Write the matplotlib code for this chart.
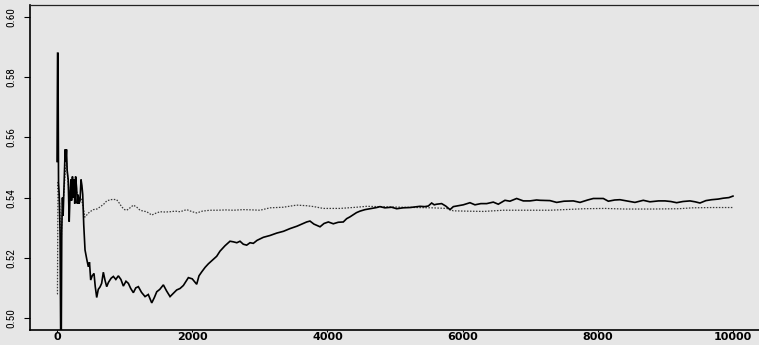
import matplotlib
matplotlib.use("Agg")
import matplotlib.pyplot as plt
from matplotlib import font_manager

# ---- data ----
solid_x = [0, 8, 14, 22, 32, 45, 55, 62, 70, 80, 90, 100, 110, 120, 130, 140, 150, 165, 180, 192,
           205, 215, 228, 240, 252, 262, 275, 290, 300, 312, 325, 340, 355, 368, 380, 395, 414, 440,
           463, 480, 498, 520, 547, 565, 587, 610, 636, 660, 685, 710, 735, 760, 800, 833, 870, 907,
           945, 981, 1020, 1055, 1090, 1129, 1165, 1203, 1250, 1302, 1350, 1401, 1440, 1475, 1520,
           1573, 1620, 1672, 1720, 1770, 1820, 1869, 1943, 2000, 2066, 2100, 2140, 2190, 2239, 2313,
           2362, 2411, 2485, 2559, 2608, 2660, 2707, 2756, 2806, 2855, 2904, 2960, 3052, 3150, 3250,
           3350, 3447, 3550, 3693, 3742, 3800, 3891, 3950, 4014, 4087, 4160, 4235, 4285, 4334, 4383,
           4430, 4482, 4556, 4650, 4729, 4778, 4850, 4950, 5025, 5120, 5222, 5300, 5370, 5440, 5493,
           5542, 5580, 5616, 5690, 5750, 5814, 5863, 5940, 6010, 6109, 6183, 6270, 6356, 6454, 6528,
           6627, 6700, 6800, 6898, 6997, 7095, 7145, 7293, 7392, 7500, 7638, 7737, 7850, 7934, 8082,
           8156, 8250, 8328, 8450, 8550, 8673, 8772, 8900, 8994, 9080, 9167, 9260, 9364, 9440, 9512,
           9600, 9685, 9780, 9857, 9940, 10000]
solid_y = [0.552, 0.588, 0.588, 0.545, 0.541, 0.528, 0.490, 0.490, 0.529, 0.540, 0.534, 0.541, 0.549,
           0.556, 0.552, 0.556, 0.549, 0.546, 0.532, 0.541, 0.546, 0.539, 0.547, 0.540, 0.546, 0.538,
           0.547, 0.543, 0.538, 0.541, 0.538, 0.539, 0.546, 0.544, 0.541, 0.531, 0.5226, 0.5195,
           0.5170, 0.5185, 0.5126, 0.5140, 0.5148, 0.5105, 0.5068, 0.5095, 0.5103, 0.5115, 0.5152,
           0.5125, 0.5104, 0.5118, 0.5132, 0.5138, 0.5128, 0.5140, 0.5128, 0.5106, 0.5122, 0.5115,
           0.5098, 0.5084, 0.5100, 0.5104, 0.5085, 0.5071, 0.5078, 0.5050, 0.5068, 0.5087, 0.5095,
           0.5110, 0.5090, 0.5071, 0.5082, 0.5093, 0.5098, 0.5108, 0.5134, 0.5130, 0.5112, 0.5140,
           0.5153, 0.5168, 0.5180, 0.5195, 0.5205, 0.5222, 0.5240, 0.5255, 0.5253, 0.5250, 0.5255,
           0.5245, 0.5242, 0.5250, 0.5248, 0.5258, 0.5268, 0.5274, 0.5282, 0.5288, 0.5297, 0.5305,
           0.5319, 0.5322, 0.5312, 0.5303, 0.5314, 0.5319, 0.5313, 0.5318, 0.5319, 0.5330, 0.5336,
           0.5343, 0.5350, 0.5355, 0.5360, 0.5364, 0.5367, 0.5370, 0.5366, 0.5368, 0.5363, 0.5366,
           0.5367, 0.5369, 0.5371, 0.5370, 0.5372, 0.5382, 0.5376, 0.5378, 0.5380, 0.5372, 0.5360,
           0.5370, 0.5373, 0.5376, 0.5383, 0.5376, 0.5380, 0.5380, 0.5385, 0.5378, 0.5391, 0.5388,
           0.5397, 0.5389, 0.5389, 0.5392, 0.5391, 0.5390, 0.5384, 0.5388, 0.5389, 0.5384, 0.5392,
           0.5397, 0.5397, 0.5388, 0.5392, 0.5393, 0.5388, 0.5384, 0.5391, 0.5386, 0.5389, 0.5389,
           0.5387, 0.5383, 0.5387, 0.5389, 0.5386, 0.5382, 0.5390, 0.5393, 0.5395, 0.5398, 0.5400,
           0.5405]

dotted_x = [0, 6, 14, 25, 40, 55, 65, 80, 100, 120, 140, 160, 180, 200, 230, 260, 290, 320, 360,
            390, 410, 439, 480, 537, 590, 636, 690, 735, 790, 833, 882, 920, 957, 1000, 1031, 1080,
            1129, 1180, 1228, 1280, 1327, 1401, 1460, 1524, 1600, 1672, 1750, 1820, 1918, 2000, 2066,
            2150, 2263, 2362, 2500, 2608, 2756, 2900, 3003, 3151, 3348, 3545, 3693, 3800, 3940, 4186,
            4433, 4581, 4750, 4927, 5100, 5320, 5550, 5764, 5863, 6050, 6306, 6602, 7000, 7293, 7500,
            7800, 8100, 8400, 8800, 9200, 9400, 9700, 10000]
dotted_y = [0.508, 0.508, 0.545, 0.541, 0.538, 0.524, 0.527, 0.538, 0.541, 0.548, 0.552, 0.546,
            0.541, 0.540, 0.543, 0.540, 0.542, 0.540, 0.5395, 0.5365, 0.5335, 0.5342, 0.5352,
            0.5360, 0.5362, 0.5369, 0.5378, 0.5389, 0.5393, 0.5394, 0.5393, 0.5382, 0.5369, 0.5360,
            0.5358, 0.5366, 0.5375, 0.5368, 0.5358, 0.5355, 0.5353, 0.5342, 0.5348, 0.5353, 0.5352,
            0.5353, 0.5355, 0.5353, 0.5360, 0.5353, 0.5349, 0.5355, 0.5358, 0.5358, 0.5359, 0.5358,
            0.5360, 0.5359, 0.5358, 0.5366, 0.5368, 0.5375, 0.5373, 0.5370, 0.5364, 0.5364, 0.5368,
            0.5371, 0.5370, 0.5369, 0.5368, 0.5367, 0.5366, 0.5364, 0.5356, 0.5355, 0.5354, 0.5358,
            0.5358, 0.5358, 0.5360, 0.5363, 0.5364, 0.5362, 0.5362, 0.5363, 0.5366, 0.5367, 0.5367]

x_ticks = [0, 2000, 4000, 6000, 8000, 10000]
x_tick_labels = ["0", "2000", "4000", "6000", "8000", "10000"]
y_ticks = [0.50, 0.52, 0.54, 0.56, 0.58, 0.60]
y_tick_labels = ["0.50", "0.52", "0.54", "0.56", "0.58", "0.60"]

# ---- style ----
BG = "#e6e6e6"
W, H = 759, 345
fig = plt.figure(figsize=(W / 100, H / 100), dpi=100, facecolor=BG)
left, right, bottom, top = 30, 760, 330, 5
ax = fig.add_axes([left / W, (H - bottom) / H, (right - left) / W, (bottom - top) / H])
ax.set_facecolor(BG)

ax.plot(dotted_x, dotted_y, color="#3a3a3a", lw=0.9, linestyle=(0, (1.2, 1.2)))
ax.plot(solid_x, solid_y, color="black", lw=1.2, solid_joinstyle="miter")

ax.set_xlim(-400, 10400)
ax.set_ylim(0.496, 0.604)

names = {f.name for f in font_manager.fontManager.ttflist}
narrow = None
for cand in ("Liberation Sans Narrow", "DejaVu Sans Condensed", "Roboto Condensed",
             "Open Sans Condensed"):
    if cand in names:
        narrow = cand
        break
if narrow is None:
    yfam, ysize = "Liberation Sans", 7.6
else:
    yfam, ysize = narrow, 8.2

ax.set_yticks(y_ticks)
ax.set_yticklabels(y_tick_labels, rotation=90, va="center", family=yfam, fontsize=ysize)
ax.set_xticks(x_ticks)
ax.set_xticklabels(x_tick_labels, family="DejaVu Sans", fontweight="bold", fontsize=8)

ax.tick_params(axis="y", length=4, width=0.8, pad=6, direction="out")
ax.tick_params(axis="x", length=1.2, width=0.8, pad=0.3, direction="out")

for s in ("left", "bottom"):
    ax.spines[s].set_linewidth(1.2)
    ax.spines[s].set_color("black")
ax.spines["right"].set_visible(False)
ax.spines["top"].set_linestyle((0, (1, 1)))
ax.spines["top"].set_linewidth(0.9)
ax.spines["top"].set_color("#222222")

fig.savefig("out.png", dpi=100, facecolor=BG)
